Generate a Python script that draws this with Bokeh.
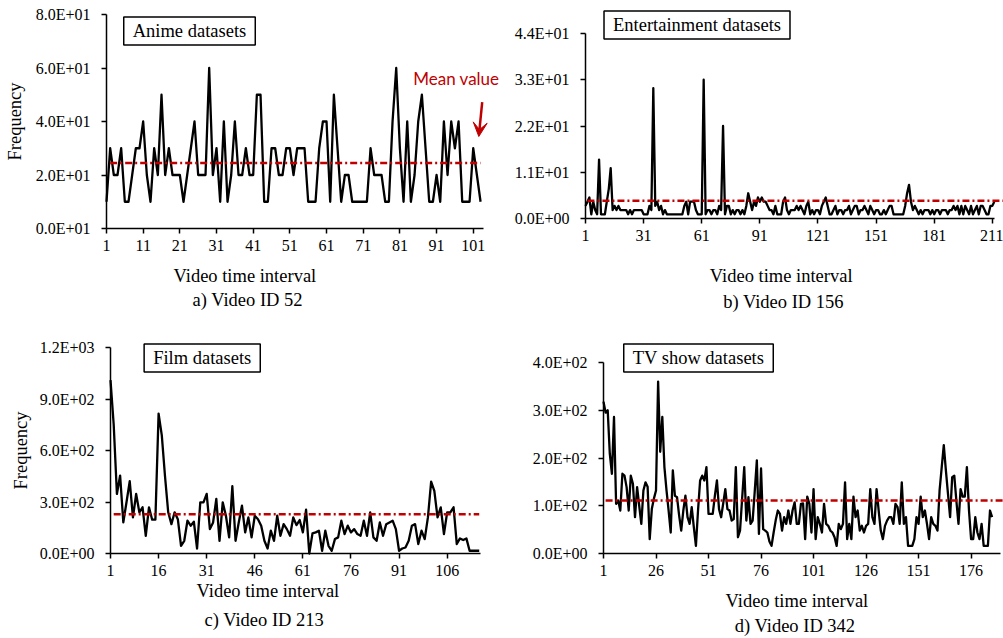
from bokeh.plotting import figure
from bokeh.layouts import column, row
from bokeh.models import Range1d, FixedTicker, Label, Arrow, VeeHead
from bokeh.embed import file_html
from bokeh.resources import INLINE

# ---------------- data ----------------
anime_values = [10, 30, 20, 20, 30, 10, 10, 20, 30, 30,
                40, 20, 10, 30, 20, 50, 20, 30, 20, 20,
                20, 10, 20, 30, 40, 20, 20, 20, 60, 20,
                30, 10, 40, 10, 20, 40, 20, 20, 30, 20,
                20, 50, 50, 10, 10, 30, 30, 20, 20, 30,
                30, 20, 30, 30, 30, 10, 10, 10, 30, 40,
                40, 10, 50, 30, 10, 20, 20, 10, 10, 10,
                10, 10, 30, 20, 20, 20, 10, 10, 40, 60,
                30, 10, 40, 10, 20, 40, 50, 30, 10, 10,
                20, 10, 40, 20, 40, 30, 40, 10, 10, 10,
                30, 20, 10]
anime_mean = 24.5

entertainment_values = [3, 4, 5, 1, 4, 2, 1, 14, 1, 1,
                        1, 4, 7, 12, 2, 3, 2, 3, 2, 2,
                        2, 2, 1, 2, 1, 2, 2, 2, 2, 2,
                        1, 1, 1, 3, 2, 31, 3, 4, 2, 3,
                        1, 2, 1, 1, 1, 1, 1, 1, 1, 1,
                        1, 3, 4, 1, 4, 4, 4, 2, 1, 1,
                        1, 33, 1, 2, 2, 1, 2, 2, 1, 3,
                        2, 22, 1, 3, 3, 1, 2, 1, 2, 2,
                        1, 2, 1, 3, 6, 4, 2, 4, 3, 5,
                        4, 5, 4, 4, 3, 2, 2, 1, 3, 1,
                        1, 1, 4, 5, 2, 1, 2, 2, 2, 3,
                        2, 3, 2, 1, 3, 4, 1, 2, 1, 2,
                        2, 1, 3, 4, 5, 3, 1, 1, 2, 3,
                        1, 2, 2, 1, 2, 2, 3, 1, 2, 3,
                        3, 1, 2, 2, 3, 2, 1, 3, 2, 1,
                        2, 2, 1, 1, 2, 1, 2, 3, 3, 1,
                        1, 1, 1, 1, 1, 3, 6, 8, 4, 2,
                        3, 2, 1, 2, 1, 2, 2, 2, 1, 2,
                        1, 2, 2, 1, 2, 2, 2, 1, 2, 2,
                        3, 2, 3, 1, 3, 1, 3, 2, 1, 3,
                        1, 2, 3, 1, 3, 3, 2, 1, 1, 3,
                        3, 4]
entertainment_mean = 4.2

film_values = [1010, 750, 347, 454, 181, 300, 421, 210, 347, 240,
               269, 103, 269, 197, 197, 815, 688, 450, 240, 171,
               240, 200, 45, 74, 191, 162, 185, 29, 298, 298,
               347, 142, 181, 318, 74, 298, 220, 94, 392, 74,
               181, 279, 123, 210, 94, 220, 200, 162, 74, 29,
               133, 74, 220, 103, 171, 142, 103, 210, 165, 195,
               123, 255, 0, 117, 123, 133, 16, 133, 45, 16,
               84, 94, 191, 113, 162, 123, 142, 113, 103, 191,
               103, 240, 94, 74, 181, 103, 171, 181, 191, 142,
               16, 29, 35, 74, 162, 171, 55, 133, 84, 210,
               418, 365, 210, 269, 113, 240, 240, 269, 55, 88,
               78, 88, 16, 16, 16, 16]
film_mean = 228

tv_values = [318, 295, 300, 209, 167, 286, 104, 111, 90, 167,
             163, 139, 90, 163, 146, 76, 139, 100, 62, 132,
             149, 140, 30, 93, 115, 132, 360, 213, 286, 181,
             132, 90, 44, 174, 121, 118, 80, 48, 90, 121,
             76, 62, 97, 55, 16, 90, 153, 163, 153, 181,
             83, 83, 83, 120, 153, 93, 76, 105, 135, 93,
             90, 69, 72, 181, 34, 48, 115, 181, 69, 118,
             62, 69, 130, 195, 41, 178, 51, 48, 44, 25,
             16, 44, 70, 90, 83, 48, 76, 62, 90, 62,
             90, 107, 62, 62, 104, 105, 30, 119, 104, 44,
             135, 30, 76, 62, 44, 104, 62, 58, 48, 44,
             34, 16, 62, 51, 62, 149, 30, 62, 30, 119,
             76, 90, 48, 58, 44, 58, 62, 135, 76, 62,
             135, 90, 48, 30, 58, 69, 76, 76, 62, 104,
             97, 62, 149, 62, 76, 16, 16, 16, 30, 76,
             62, 119, 76, 90, 62, 30, 76, 62, 58, 48,
             132, 180, 227, 174, 125, 76, 160, 163, 110, 62,
             135, 119, 119, 181, 90, 30, 30, 76, 44, 30,
             62, 16, 16, 16, 90, 76]
tv_mean = 111

anime_xticks = [1, 11, 21, 31, 41, 51, 61, 71, 81, 91, 101]
entertainment_xticks = [1, 31, 61, 91, 121, 151, 181, 211]
film_xticks = [1, 16, 31, 46, 61, 76, 91, 106]
tv_xticks = [1, 26, 51, 76, 101, 126, 151, 176]

anime_yticks = [0, 20, 40, 60, 80]
anime_ylabels = ["0.0E+01", "2.0E+01", "4.0E+01", "6.0E+01", "8.0E+01"]
entertainment_yticks = [0, 11, 22, 33, 44]
entertainment_ylabels = ["0.0E+00", "1.1E+01", "2.2E+01", "3.3E+01", "4.4E+01"]
film_yticks = [0, 300, 600, 900, 1200]
film_ylabels = ["0.0E+00", "3.0E+02", "6.0E+02", "9.0E+02", "1.2E+03"]
tv_yticks = [0, 100, 200, 300, 400]
tv_ylabels = ["0.0E+00", "1.0E+02", "2.0E+02", "3.0E+02", "4.0E+02"]

# ---------------- style ----------------
SERIF = "Liberation Serif"
RED = "#C00000"
TXT = "18.5px"
BASE_SHIFT = 6.5   # alphabetic baseline correction (px)


def px2x(g, px):
    return g["x0"] + (px - g["left"]) * (g["x1"] - g["x0"]) / (g["right"] - g["left"])


def px2y(g, py):
    return g["y0"] + (g["bottom"] - py) * (g["y1"] - g["y0"]) / (g["bottom"] - g["top"])


def make_panel(g, values, mean, xticks, yticks, ylabels, box_text, box_c,
               title_pos, sub_text, sub_pos, mean_end, ylabel=None, ylabel_standoff=8):
    fx, fy, fw, fh = g["fig"]
    p = figure(width=fw, height=fh, output_backend="svg", toolbar_location=None,
               x_range=Range1d(px2x(g, fx), px2x(g, fx + fw)),
               y_range=Range1d(px2y(g, fy + fh), px2y(g, fy)),
               min_border_left=0, min_border_right=0,
               min_border_top=0, min_border_bottom=0,
               background_fill_color="white", border_fill_color="white")
    p.outline_line_color = None
    p.xgrid.visible = False
    p.ygrid.visible = False
    for ax in (p.xaxis[0], p.yaxis[0]):
        ax.axis_line_color = "black"
        ax.axis_line_width = 1.5
        ax.major_tick_line_color = "black"
        ax.major_tick_line_width = 1.5
        ax.major_tick_out = 5
        ax.major_tick_in = 0
        ax.minor_tick_out = 0
        ax.minor_tick_in = 0
        ax.major_label_text_font = SERIF
        ax.major_label_text_font_size = "16px"
        ax.major_label_text_color = "black"
    p.xaxis.ticker = FixedTicker(ticks=xticks)
    p.yaxis.ticker = FixedTicker(ticks=yticks)
    p.yaxis.major_label_overrides = {t: lab for t, lab in zip(yticks, ylabels)}
    p.xaxis.major_label_standoff = 6
    p.yaxis.major_label_standoff = 11
    p.xaxis.fixed_location = g["y0"]
    p.yaxis.fixed_location = g["x0"]
    p.xaxis.bounds = (g["x0"], g["xaxis_end"])
    p.yaxis.bounds = (g["y0"], g["y1"])
    if ylabel:
        p.yaxis.axis_label = ylabel
        p.yaxis.axis_label_text_font = SERIF
        p.yaxis.axis_label_text_font_size = TXT
        p.yaxis.axis_label_text_font_style = "normal"
        p.yaxis.axis_label_text_color = "black"
        p.yaxis.axis_label_standoff = ylabel_standoff

    xs = list(range(1, len(values) + 1))
    p.line(xs, values, line_color="black", line_width=2.3, line_join="round")
    p.line([xs[1], mean_end], [mean, mean], line_color=RED,
           line_width=2.5, line_dash="7 3 2 3")

    p.add_layout(Label(x=px2x(g, box_c[0]), y=px2y(g, box_c[1]), text=box_text,
                       text_font=SERIF, text_font_size=TXT, text_color="black",
                       text_align="center", text_baseline="middle",
                       background_fill_color="white", border_line_color="black",
                       border_line_width=1.5,
                       padding=dict(left=9, right=9, top=4, bottom=4)))
    p.add_layout(Label(x=px2x(g, title_pos[0]), y=px2y(g, title_pos[1] - BASE_SHIFT),
                       text="Video time interval", text_font=SERIF,
                       text_font_size=TXT, text_color="black",
                       text_align="left", text_baseline="alphabetic"))
    p.add_layout(Label(x=px2x(g, sub_pos[0]), y=px2y(g, sub_pos[1] - BASE_SHIFT),
                       text=sub_text, text_font=SERIF,
                       text_font_size=TXT, text_color="black",
                       text_align="left", text_baseline="alphabetic"))
    return p


# pixel geometry of each panel's axes (absolute page pixels) and the values there
ga = dict(fig=(0, 0, 501, 319), left=106, right=483, top=14, bottom=228,
          x0=1, x1=103.8, y0=0, y1=80, xaxis_end=103.8)
gb = dict(fig=(501, 0, 502, 319), left=585, right=993, top=33, bottom=218,
          x0=1, x1=211.6, y0=0, y1=44, xaxis_end=212.2)
gc = dict(fig=(0, 319, 501, 319), left=110, right=480, top=347, bottom=553,
          x0=1, x1=116.4, y0=0, y1=1200, xaxis_end=116.4)
gd = dict(fig=(501, 319, 502, 319), left=603, right=1000, top=362, bottom=553,
          x0=1, x1=190.0, y0=0, y1=400, xaxis_end=190.0)

pa = make_panel(ga, anime_values, anime_mean, anime_xticks, anime_yticks, anime_ylabels,
                "Anime datasets", (189, 30.5), (173, 282), "a) Video ID 52", (192, 306),
                mean_end=len(anime_values), ylabel="Frequency", ylabel_standoff=8)
pa.add_layout(Label(x=px2x(ga, 412.7), y=px2y(ga, 84.3 - BASE_SHIFT), text="Mean value",
                    text_font="Lato", text_font_size="17px", text_color=RED,
                    text_align="left", text_baseline="alphabetic"))
pa.add_layout(Arrow(end=VeeHead(size=14, fill_color=RED, line_color=RED),
                    x_start=px2x(ga, 481.7), y_start=px2y(ga, 101.7),
                    x_end=px2x(ga, 478.3), y_end=px2y(ga, 136),
                    line_color=RED, line_width=2.5))

pb = make_panel(gb, entertainment_values, entertainment_mean, entertainment_xticks,
                entertainment_yticks, entertainment_ylabels,
                "Entertainment datasets", (696.5, 24.5), (709.3, 281.7),
                "b) Video ID 156", (722.7, 308.3), mean_end=px2x(gb, 1003))

pc = make_panel(gc, film_values, film_mean, film_xticks, film_yticks, film_ylabels,
                "Film datasets", (201.7, 357.5), (196, 596.7), "c) Video ID 213", (204, 626),
                mean_end=len(film_values), ylabel="Frequency", ylabel_standoff=6)

pd_ = make_panel(gd, tv_values, tv_mean, tv_xticks, tv_yticks, tv_ylabels,
                 "TV show datasets", (698, 357.5), (725, 606.7), "d) Video ID 342", (734.3, 631.7),
                 mean_end=px2x(gd, 1003))

layout = column(row(pa, pb), row(pc, pd_))
open("out.html", "w").write(file_html(layout, INLINE))
